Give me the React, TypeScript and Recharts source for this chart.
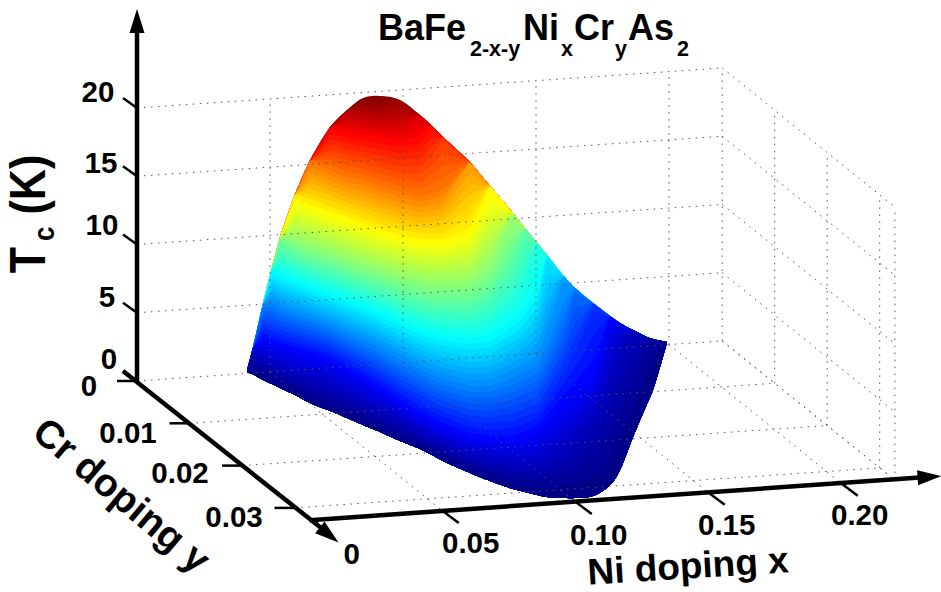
import React from "react";
import { ComposedChart, XAxis, YAxis, Area, Line } from "recharts";

// Axis values
const niTicks = [0, 0.05, 0.1, 0.15, 0.2];
const niTickLabels = ["0", "0.05", "0.10", "0.15", "0.20"];
const crTicks = [0, 0.01, 0.02, 0.03];
const crTickLabels = ["0", "0.01", "0.02", "0.03"];
const tcTicks = [0, 5, 10, 15, 20];
const tcTickLabels = ["0", "5", "10", "15", "20"];
const NI_MAX = 0.22;
const CR_MAX = 0.0329;
const TC_MAX = 20;

// Surface, read from the picture plane: horizontal stations and, per station,
// the height of the outline and of each Tc level curve.
const stations = [247,253,263,272,280,295,310,330,347,363,380,400,420,430,443,470,490,513,525,537,547,563,575,593,610,620,633,647,653,667];
const outlineTop = [370,347,303,267,237,194,160,127,110,98,96,100,115,124,137,162,186,213,228,243,255,275,288,303,316,323,330,337,339,342];
const outlineTopTc = [0.25,1.9,5.1,7.7,9.8,12.9,15.3,17.6,18.8,19.6,19.8,19.3,18.1,17.3,16.3,14.4,12.6,10.4,9.2,8.1,7,5.5,4.6,3.4,2.4,1.8,1.2,0.7,0.5,0.2];
const outlineBottom = [372,374.5,380,384,388,395,403,411,418,425,432,441,449,454,461,473,481,489,492,495,497,498,498,496,485,470,437,404,390,343];
const tc1p25 = [370,350,360,363,367,372,378,385,394,401,410,421,431,437,443,455,460,465,465,464,460,450,438,415,380,345,330,337,339,342];
const tc2p5 = [370,347,340,343,346,350,354,360,370,378,389,402,414,420,426,437,440,440,436,432,420,403,392,377,337,323,330,337,339,342];
const tc5 = [370,347,303,305,309,315,320,327,335,342,350,361,371,376,381,388,388,380,374,368,350,312,288,303,316,323,330,337,339,342];
const tc7p5 = [370,347,303,270,274,280,286,293,299,305,312,321,329,332,335,338,335,320,308,288,255,275,288,303,316,323,330,337,339,342];
const tc10 = [370,347,303,267,238,243,250,256,263,268,273,280,285,287,288,287,272,232,228,243,255,275,288,303,316,323,330,337,339,342];
const tc12p5 = [370,347,303,267,237,200,206,213,219,225,231,237,240,241,241,232,192,213,228,243,255,275,288,303,316,323,330,337,339,342];
const tc15 = [370,347,303,267,237,194,162,170,177,180,186,192,197,194,190,162,186,213,228,243,255,275,288,303,316,323,330,337,339,342];
const tc17p5 = [370,347,303,267,237,194,160,127,130,133,135,138,133,124,137,162,186,213,228,243,255,275,288,303,316,323,330,337,339,342];
const tc19 = [370,347,303,267,237,194,160,127,110,110,112,107,115,124,137,162,186,213,228,243,255,275,288,303,316,323,330,337,339,342];

const levelValues = [0, 1.25, 2.5, 5, 7.5, 10, 12.5, 15, 17.5, 19];
const levelCurves = [outlineBottom, tc1p25, tc2p5, tc5, tc7p5, tc10, tc12p5, tc15, tc17p5, tc19];

const W = 941;
const H = 592;
const FONT = '"Liberation Sans", Arial, sans-serif';

const project = (x: number, y: number, z: number) => ({
  sx: 137 + 2660 * x + 5250 * y,
  sy: 381 - 182 * x + 4230 * y - 13.65 * z,
});

const clamp = (v: number) => Math.max(0, Math.min(1, v));
const jet = (t: number) => {
  const r = clamp(Math.min(4 * t - 1.5, -4 * t + 4.5));
  const g = clamp(Math.min(4 * t - 0.5, -4 * t + 3.5));
  const b = clamp(Math.min(4 * t + 0.5, -4 * t + 2.5));
  return `rgb(${Math.round(r * 255)},${Math.round(g * 255)},${Math.round(b * 255)})`;
};

// Height of a Tc level at a station: between the level curves read below it and
// the outline, whose own Tc is known per station.
const curveAt = (level: number, i: number) => {
  const topTc = outlineTopTc[i];
  if (level >= topTc) return outlineTop[i];
  let k = 0;
  while (k < levelValues.length - 1 && level > levelValues[k + 1]) k++;
  const hiLevel = k + 1 < levelValues.length ? Math.min(levelValues[k + 1], topTc) : topTc;
  const hiCurve = k + 1 < levelValues.length && levelValues[k + 1] < topTc ? levelCurves[k + 1][i] : outlineTop[i];
  const f = (level - levelValues[k]) / (hiLevel - levelValues[k]);
  return levelCurves[k][i] + f * (hiCurve - levelCurves[k][i]);
};

// Smooth drawing of a curve through its stations, as a spline curve type would do.
const spline = (ys: number[], sx: number) => {
  let i = 0;
  while (i < stations.length - 2 && sx > stations[i + 1]) i++;
  const tangent = (j: number) => {
    const a = Math.max(0, j - 1);
    const b = Math.min(stations.length - 1, j + 1);
    return (ys[b] - ys[a]) / (stations[b] - stations[a]);
  };
  const h = stations[i + 1] - stations[i];
  const t = (sx - stations[i]) / h;
  const t2 = t * t;
  const t3 = t2 * t;
  return (
    (2 * t3 - 3 * t2 + 1) * ys[i] +
    (t3 - 2 * t2 + t) * h * tangent(i) +
    (-2 * t3 + 3 * t2) * ys[i + 1] +
    (t3 - t2) * h * tangent(i + 1)
  );
};

const drawX: number[] = [];
for (let s = stations[0]; s < stations[stations.length - 1]; s += 2.5) drawX.push(s);
drawX.push(stations[stations.length - 1]);

const STEP = 0.3;
const bands: { key: string; color: string; data: { sx: number; band: number[] }[] }[] = [];
for (let n = Math.round(19.8 / STEP); n >= 0; n--) {
  const level = n * STEP;
  const atStations = stations.map((_, i) => curveAt(level, i));
  bands.push({
    key: `band-${n}`,
    color: jet(Math.max(0, level - STEP / 2) / 19.8),
    data: drawX.map((sx) => {
      let i = 0;
      while (i < stations.length - 2 && sx > stations[i + 1]) i++;
      const f = (sx - stations[i]) / (stations[i + 1] - stations[i]);
      const c = atStations[i] + f * (atStations[i + 1] - atStations[i]);
      const top = spline(outlineTop, sx);
      const bottom = Math.max(top, spline(outlineBottom, sx));
      const lifted = n === Math.round(19.8 / STEP) ? top : Math.max(top, c);
      return { sx, band: [Math.min(lifted, bottom), bottom] };
    }),
  });
}

type P = { sx: number; sy: number; [k: string]: unknown };
const seg = (a: [number, number, number], b: [number, number, number]): P[] => [project(...a), project(...b)];

const gridSegments: P[][] = [];
tcTicks.forEach((z) => {
  if (z > 0) gridSegments.push(seg([0, 0, z], [NI_MAX, 0, z]));
  gridSegments.push(seg([NI_MAX, 0, z], [NI_MAX, CR_MAX, z]));
});
[...niTicks.slice(1), NI_MAX].forEach((x) => {
  gridSegments.push(seg([x, 0, 0], [x, 0, TC_MAX]));
  gridSegments.push(seg([x, 0, 0], [x, CR_MAX, 0]));
});
[...crTicks.slice(1), CR_MAX].forEach((y) => {
  gridSegments.push(seg([NI_MAX, y, 0], [NI_MAX, y, TC_MAX]));
  gridSegments.push(seg([0, y, 0], [NI_MAX, y, 0]));
});
gridSegments.push(seg([0, 0, 0], [NI_MAX, 0, 0]));

const off = (p: P, dx: number, dy: number): P => ({ sx: p.sx + dx, sy: p.sy + dy });

const tickSegments: P[][] = [
  ...niTicks.slice(1).map((x) => {
    const p = project(x, CR_MAX, 0);
    return [p, off(p, 16, 12)];
  }),
  ...crTicks.map((y) => {
    const p = project(0, y, 0);
    return [p, off(p, -20, 0)];
  }),
  ...tcTicks.map((z) => {
    const p = project(0, 0, z);
    return [p, off(p, -14, -10)];
  }),
];

const xEnd = { sx: 927, sy: 477 };
const yEnd = { sx: 325, sy: 531 };
const zEnd = { sx: 137, sy: 30 };
const axisSegments: P[][] = [
  [project(0, CR_MAX, 0), xEnd],
  [{ sx: 123, sy: 371 }, yEnd],
  [project(0, 0, 0), zEnd],
];

const arrowHeads = [
  { sx: 941.5, sy: 476, angle: -4, key: "x" },
  { sx: 338.5, sy: 542.5, angle: 39, key: "y" },
  { sx: 137, sy: 9, angle: -90, key: "z" },
];

const boldText = (extra: Record<string, unknown>) => ({
  fontFamily: FONT,
  fontWeight: 700,
  fill: "#000",
  ...extra,
});

const labelOffsetsNi = [[42, 33], [28, 31], [23, 33], [18, 32], [18, 31]];
const labelOffsetsCr = [[-48, 4], [-61.5, 9], [-62, 7], [-60.5, 9]];
const labelOffsetsTc = [[-28, -23], [-30, -16], [-35, -20], [-36, -14], [-39, -17]];

const tickTexts: P[] = [
  ...niTicks.map((x, i) => {
    const p = project(x, CR_MAX, 0);
    return { sx: p.sx + labelOffsetsNi[i][0], sy: p.sy + labelOffsetsNi[i][1], text: niTickLabels[i] };
  }),
  ...crTicks.map((y, i) => {
    const p = project(0, y, 0);
    return { sx: p.sx + labelOffsetsCr[i][0], sy: p.sy + labelOffsetsCr[i][1], text: crTickLabels[i] };
  }),
  ...tcTicks.map((z, i) => {
    const p = project(0, 0, z);
    return { sx: p.sx + labelOffsetsTc[i][0], sy: p.sy + labelOffsetsTc[i][1], text: tcTickLabels[i] };
  }),
];

const titleAnchor = [{ sx: 378, sy: 40 }];
const niTitleAnchor = [{ sx: 688, sy: 566 }];
const crTitleAnchor = [{ sx: 122, sy: 495 }];
const tcTitleAnchor = [{ sx: 45, sy: 214 }];

const dotless = { dot: false, activeDot: false, legendType: "none" as const, isAnimationActive: false };

export default function App() {
  return (
    <div style={{ position: "absolute", left: 0, top: 0, width: W, height: H, overflow: "hidden", background: "#fff" }}>
      <ComposedChart width={W} height={H} margin={{ top: 0, right: 0, bottom: 0, left: 0 }}>
        <XAxis type="number" dataKey="sx" domain={[0, W]} hide allowDataOverflow />
        <YAxis type="number" domain={[0, H]} reversed hide allowDataOverflow />
        {gridSegments.map((d, i) => (
          <Line key={`g${i}`} data={d} dataKey="sy" stroke="#555" strokeWidth={1} strokeDasharray="1.5 5.5" {...dotless} />
        ))}
        {bands.map((b) => (
          <Area key={b.key} data={b.data} dataKey="band" type="linear" stroke="none" fill={b.color} fillOpacity={1} dot={false} activeDot={false} isAnimationActive={false} />
        ))}
        {tickSegments.map((d, i) => (
          <Line key={`t${i}`} data={d} dataKey="sy" stroke="#000" strokeWidth={2.5} {...dotless} />
        ))}
        {axisSegments.map((d, i) => (
          <Line key={`a${i}`} data={d} dataKey="sy" stroke="#000" strokeWidth={4.5} {...dotless} />
        ))}
        <Line
          data={arrowHeads}
          dataKey="sy"
          stroke="none"
          activeDot={false}
          isAnimationActive={false}
          dot={(p: any) => (
            <polygon
              key={p.payload.key}
              points="0,0 -24,-7.5 -24,7.5"
              fill="#000"
              transform={`translate(${p.cx},${p.cy}) rotate(${p.payload.angle})`}
            />
          )}
        />
        <Line
          data={tickTexts}
          dataKey="sy"
          stroke="none"
          activeDot={false}
          isAnimationActive={false}
          dot={(p: any) => (
            <text key={`${p.index}`} x={p.cx} y={p.cy} textAnchor="middle" dominantBaseline="central" {...boldText({ fontSize: 29.5 })}>
              {p.payload.text}
            </text>
          )}
        />
        <Line
          data={titleAnchor}
          dataKey="sy"
          stroke="none"
          activeDot={false}
          isAnimationActive={false}
          dot={(p: any) => {
            const sub = 16;
            const x0 = p.cx;
            const y0 = p.cy;
            return (
              <text key="title" {...boldText({ fontSize: 36 })}>
                <tspan x={x0} y={y0}>BaFe</tspan>
                <tspan x={x0 + 92} y={y0 + sub} fontSize={21.5}>2-x-y</tspan>
                <tspan x={x0 + 145} y={y0}>Ni</tspan>
                <tspan x={x0 + 183} y={y0 + sub} fontSize={21.5}>x</tspan>
                <tspan x={x0 + 196} y={y0}>Cr</tspan>
                <tspan x={x0 + 237} y={y0 + sub} fontSize={21.5}>y</tspan>
                <tspan x={x0 + 250} y={y0}>As</tspan>
                <tspan x={x0 + 299} y={y0 + sub} fontSize={21.5}>2</tspan>
              </text>
            );
          }}
        />
        <Line
          data={niTitleAnchor}
          dataKey="sy"
          stroke="none"
          activeDot={false}
          isAnimationActive={false}
          dot={(p: any) => (
            <text key="ni" x={p.cx} y={p.cy} textAnchor="middle" dominantBaseline="central" transform={`rotate(-3.5 ${p.cx} ${p.cy})`} {...boldText({ fontSize: 37 })}>
              Ni doping x
            </text>
          )}
        />
        <Line
          data={crTitleAnchor}
          dataKey="sy"
          stroke="none"
          activeDot={false}
          isAnimationActive={false}
          dot={(p: any) => (
            <text key="cr" x={p.cx} y={p.cy} textAnchor="middle" dominantBaseline="central" transform={`rotate(40 ${p.cx} ${p.cy})`} {...boldText({ fontSize: 39 })}>
              Cr doping y
            </text>
          )}
        />
        <Line
          data={tcTitleAnchor}
          dataKey="sy"
          stroke="none"
          activeDot={false}
          isAnimationActive={false}
          dot={(p: any) => (
            <text key="tc" textAnchor="middle" transform={`translate(${p.cx} ${p.cy}) rotate(-90) scale(1 1.15)`} {...boldText({ fontSize: 43 })}>
              T
              <tspan fontSize={26} dy={8} dx={6}>c</tspan>
              <tspan dy={-8} dx={12}>(K)</tspan>
            </text>
          )}
        />
      </ComposedChart>
    </div>
  );
}
